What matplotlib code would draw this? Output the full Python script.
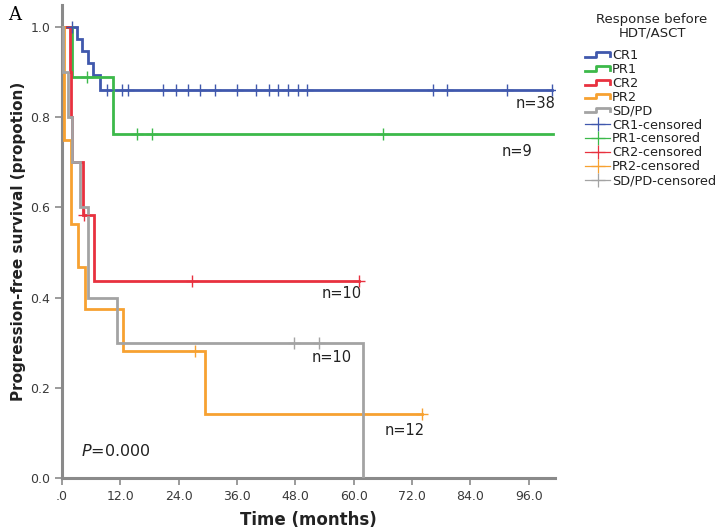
import numpy as np
import matplotlib
matplotlib.use('Agg')
import matplotlib.pyplot as plt
from matplotlib.lines import Line2D
from matplotlib.legend_handler import HandlerBase

# Kaplan-Meier steps (time in months, survival proportion)
cr1_t = [0, 3.1, 4.1, 5.3, 6.4, 7.8, 100.8]
cr1_s = [1.0, 0.974, 0.947, 0.921, 0.894, 0.86, 0.86]
pr1_t = [0, 2.1, 10.5, 101.0]
pr1_s = [1.0, 0.889, 0.762, 0.762]
cr2_t = [0, 1.7, 1.9, 2.1, 4.4, 6.6, 61.0]
cr2_s = [1.0, 0.9, 0.8, 0.7, 0.583, 0.4375, 0.4375]
pr2_t = [0, 0.5, 1.8, 3.3, 4.7, 12.6, 29.4, 74.0]
pr2_s = [1.0, 0.75, 0.5625, 0.469, 0.375, 0.281, 0.141, 0.141]
sdpd_t = [0, 0.3, 1.2, 2.0, 3.7, 5.3, 11.3, 62.0]
sdpd_s = [1.0, 0.9, 0.8, 0.7, 0.6, 0.4, 0.3, 0.0]

# censored times
cr1_c = [2.1, 9.3, 12.3, 13.6, 20.8, 23.5, 25.9, 28.4, 31.5, 36.0, 40.0, 42.5,
         44.5, 46.5, 48.5, 50.4, 76.3, 79.2, 91.6, 100.8]
pr1_c = [5.2, 15.4, 18.5, 66.0]
cr2_c = [4.5, 26.7, 61.0]
pr2_c = [27.4, 74.0]
sdpd_c = [47.7, 52.9]

groups = ['CR1', 'PR1', 'CR2', 'PR2', 'SD/PD']
colors = ['#4058ad', '#3cb94a', '#e8313f', '#f7a131', '#a3a3a3']
n_labels = ['n=38', 'n=9', 'n=10', 'n=12', 'n=10']
n_pos = [(97.5, 0.83), (93.5, 0.725), (57.5, 0.41), (70.5, 0.105), (55.5, 0.268)]

curves = [(cr1_t, cr1_s, cr1_c), (pr1_t, pr1_s, pr1_c), (cr2_t, cr2_s, cr2_c),
          (pr2_t, pr2_s, pr2_c), (sdpd_t, sdpd_s, sdpd_c)]

axcol = '#8a8a8a'
txtcol = '#3a3a3a'

fig = plt.figure(figsize=(7.2, 5.31), dpi=100)
ax = fig.add_axes([62 / 720, 53 / 531, 493 / 720, 473 / 531])

for (t, s, c), col in zip(curves, colors):
    ax.step(t, s, where='post', color=col, lw=2.0, solid_joinstyle='miter', zorder=3)
    t = np.array(t)
    s = np.array(s)
    cs = [s[np.searchsorted(t, x, side='right') - 1] for x in c]
    ax.plot(c, cs, ls='none', marker='+', ms=8, mew=1.0, color=col, zorder=4)

for lab, (x, y) in zip(n_labels, n_pos):
    ax.text(x, y, lab, fontsize=10.5, color='#222222', ha='center', va='center')

ax.text(11, 0.06, '$P$=0.000', fontsize=11.5, color='#222222', ha='center', va='center')

ax.set_xlim(0, 101.4)
ax.set_ylim(0, 1.049)
xt = np.arange(0, 97, 12)
ax.set_xticks(xt)
ax.set_xticklabels(['.0'] + ['%.1f' % v for v in xt[1:]])
ax.set_yticks([0, 0.2, 0.4, 0.6, 0.8, 1.0])
ax.set_yticklabels(['0.0', '0.2', '0.4', '0.6', '0.8', '1.0'])
for sp in ['top', 'right']:
    ax.spines[sp].set_visible(False)
for sp in ['left', 'bottom']:
    ax.spines[sp].set_color(axcol)
    ax.spines[sp].set_linewidth(2.2)
ax.tick_params(colors=axcol, labelcolor=txtcol, labelsize=9, length=5, width=1.2)
ax.set_xlabel('Time (months)', fontsize=12, fontweight='bold', color='#222222', labelpad=6)
ax.set_ylabel('Progression-free survival (propotion)', fontsize=11, fontweight='bold',
              color='#222222', labelpad=3)

fig.text(0.011, 0.972, 'A', fontsize=13, family='DejaVu Serif', va='center')


class StepHandler(HandlerBase):
    def create_artists(self, legend, orig, x0, y0, w, h, fontsize, trans):
        xs = [x0, x0 + 0.45 * w, x0 + 0.45 * w, x0 + w, x0 + w]
        ys = [y0 + 0.25 * h, y0 + 0.25 * h, y0 + 0.75 * h, y0 + 0.75 * h, y0 + 0.35 * h]
        ln = Line2D(xs, ys, color=orig.get_color(), lw=2.0, transform=trans)
        return [ln]


class CensHandler(HandlerBase):
    def create_artists(self, legend, orig, x0, y0, w, h, fontsize, trans):
        ln = Line2D([x0, x0 + w], [y0 + 0.5 * h] * 2, color=orig.get_color(), lw=0.9,
                    transform=trans)
        mk = Line2D([x0 + 0.5 * w], [y0 + 0.5 * h], color=orig.get_color(), marker='+',
                    ms=10, mew=0.9, ls='none', transform=trans)
        return [ln, mk]


fig.text(652 / 720, 1 - 26 / 531, 'Response before\nHDT/ASCT', fontsize=9.5,
         color='#222222', ha='center', va='center', multialignment='center',
         linespacing=1.05)

step_h = [Line2D([], [], color=c) for c in colors]
cens_h = [Line2D([], [], color=c, marker='+') for c in colors]
hmap = {h: StepHandler() for h in step_h}
hmap.update({h: CensHandler() for h in cens_h})
leg = fig.legend(step_h + cens_h, groups + [g + '-censored' for g in groups],
                 handler_map=hmap, loc='upper left', bbox_to_anchor=(0.812, 1 - 49 / 531),
                 frameon=False, fontsize=9.3, labelspacing=0.07, handlelength=2.0,
                 handletextpad=0.12, borderaxespad=0, borderpad=0)
for t in leg.get_texts():
    t.set_color('#222222')

fig.savefig('out.png', dpi=100)
